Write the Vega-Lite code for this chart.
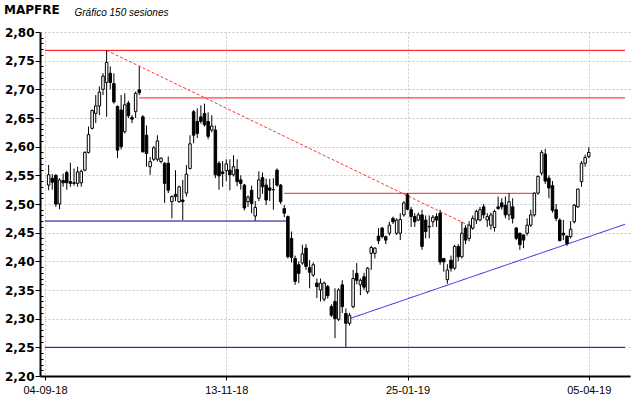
{
  "$schema": "https://vega.github.io/schema/vega-lite/v6.json",
  "width": 590,
  "height": 344,
  "autosize": {"type": "none"},
  "padding": {"left": 40, "top": 32, "right": 10, "bottom": 22},
  "background": "white",
  "config": {"view": {"stroke": null}},
  "title": {"text": "MAPFRE", "anchor": "start", "frame": "group", "dx": -36, "dy": 18, "offset": 8, "font": "DejaVu Sans", "fontSize": 12, "fontWeight": "bold", "color": "black"},
  "resolve": {"axis": {"y": "independent"}},
  "datasets": {
    "lines": [
      {"kind": "res", "i1": 0, "i2": 160, "p1": 2.768, "p2": 2.768},
      {"kind": "res", "i1": 26, "i2": 160, "p1": 2.685, "p2": 2.685},
      {"kind": "res", "i1": 66, "i2": 135, "p1": 2.5186, "p2": 2.5186},
      {"kind": "sup", "i1": 0, "i2": 67, "p1": 2.4703, "p2": 2.4703},
      {"kind": "sup", "i1": 0, "i2": 160, "p1": 2.25, "p2": 2.25},
      {"kind": "trend", "i1": 84, "i2": 160, "p1": 2.3, "p2": 2.4646},
      {"kind": "down", "i1": 17, "i2": 118, "p1": 2.768, "p2": 2.4593}
    ],
    "candles": [
      {"i":1,"o":2.533,"h":2.568,"l":2.524,"c":2.551},
      {"i":2,"o":2.545,"h":2.552,"l":2.525,"c":2.538},
      {"i":3,"o":2.550,"h":2.552,"l":2.495,"c":2.500},
      {"i":4,"o":2.500,"h":2.545,"l":2.491,"c":2.542},
      {"i":5,"o":2.541,"h":2.553,"l":2.530,"c":2.537},
      {"i":6,"o":2.555,"h":2.558,"l":2.525,"c":2.537},
      {"i":7,"o":2.539,"h":2.572,"l":2.530,"c":2.536},
      {"i":8,"o":2.537,"h":2.562,"l":2.532,"c":2.536},
      {"i":9,"o":2.536,"h":2.565,"l":2.530,"c":2.556},
      {"i":10,"o":2.537,"h":2.560,"l":2.530,"c":2.557},
      {"i":11,"o":2.559,"h":2.592,"l":2.557,"c":2.590},
      {"i":12,"o":2.590,"h":2.635,"l":2.588,"c":2.621},
      {"i":13,"o":2.632,"h":2.665,"l":2.630,"c":2.663},
      {"i":14,"o":2.658,"h":2.690,"l":2.641,"c":2.671},
      {"i":15,"o":2.671,"h":2.705,"l":2.655,"c":2.695},
      {"i":16,"o":2.700,"h":2.728,"l":2.690,"c":2.723},
      {"i":17,"o":2.712,"h":2.768,"l":2.652,"c":2.747},
      {"i":18,"o":2.728,"h":2.740,"l":2.700,"c":2.712},
      {"i":19,"o":2.710,"h":2.728,"l":2.675,"c":2.678},
      {"i":20,"o":2.670,"h":2.672,"l":2.580,"c":2.594},
      {"i":21,"o":2.664,"h":2.690,"l":2.595,"c":2.600},
      {"i":22,"o":2.626,"h":2.693,"l":2.623,"c":2.673},
      {"i":23,"o":2.676,"h":2.680,"l":2.650,"c":2.654},
      {"i":24,"o":2.651,"h":2.655,"l":2.641,"c":2.648},
      {"i":25,"o":2.661,"h":2.696,"l":2.650,"c":2.693},
      {"i":26,"o":2.699,"h":2.740,"l":2.690,"c":2.694},
      {"i":27,"o":2.652,"h":2.655,"l":2.590,"c":2.591},
      {"i":28,"o":2.620,"h":2.637,"l":2.565,"c":2.588},
      {"i":29,"o":2.565,"h":2.582,"l":2.551,"c":2.574},
      {"i":30,"o":2.578,"h":2.601,"l":2.575,"c":2.598},
      {"i":31,"o":2.578,"h":2.620,"l":2.574,"c":2.610},
      {"i":32,"o":2.574,"h":2.581,"l":2.571,"c":2.580},
      {"i":33,"o":2.571,"h":2.573,"l":2.502,"c":2.536},
      {"i":34,"o":2.571,"h":2.583,"l":2.519,"c":2.524},
      {"i":35,"o":2.504,"h":2.515,"l":2.475,"c":2.513},
      {"i":36,"o":2.517,"h":2.559,"l":2.505,"c":2.513},
      {"i":37,"o":2.504,"h":2.532,"l":2.502,"c":2.530},
      {"i":38,"o":2.507,"h":2.542,"l":2.472,"c":2.504},
      {"i":39,"o":2.519,"h":2.568,"l":2.513,"c":2.552},
      {"i":40,"o":2.562,"h":2.620,"l":2.560,"c":2.605},
      {"i":41,"o":2.661,"h":2.664,"l":2.606,"c":2.620},
      {"i":42,"o":2.644,"h":2.667,"l":2.615,"c":2.623},
      {"i":43,"o":2.652,"h":2.672,"l":2.640,"c":2.644},
      {"i":44,"o":2.658,"h":2.675,"l":2.635,"c":2.638},
      {"i":45,"o":2.644,"h":2.660,"l":2.613,"c":2.618},
      {"i":46,"o":2.629,"h":2.655,"l":2.625,"c":2.636},
      {"i":47,"o":2.629,"h":2.637,"l":2.545,"c":2.551},
      {"i":48,"o":2.571,"h":2.575,"l":2.525,"c":2.549},
      {"i":49,"o":2.556,"h":2.575,"l":2.530,"c":2.553},
      {"i":50,"o":2.558,"h":2.578,"l":2.540,"c":2.570},
      {"i":51,"o":2.559,"h":2.578,"l":2.524,"c":2.551},
      {"i":52,"o":2.551,"h":2.585,"l":2.548,"c":2.565},
      {"i":53,"o":2.560,"h":2.578,"l":2.531,"c":2.539},
      {"i":54,"o":2.542,"h":2.550,"l":2.525,"c":2.536},
      {"i":55,"o":2.533,"h":2.535,"l":2.489,"c":2.493},
      {"i":56,"o":2.504,"h":2.515,"l":2.495,"c":2.512},
      {"i":57,"o":2.524,"h":2.532,"l":2.484,"c":2.501},
      {"i":58,"o":2.479,"h":2.505,"l":2.471,"c":2.494},
      {"i":59,"o":2.510,"h":2.557,"l":2.505,"c":2.542},
      {"i":60,"o":2.546,"h":2.555,"l":2.518,"c":2.530},
      {"i":61,"o":2.533,"h":2.544,"l":2.498,"c":2.507},
      {"i":62,"o":2.528,"h":2.544,"l":2.505,"c":2.524},
      {"i":63,"o":2.525,"h":2.545,"l":2.490,"c":2.525},
      {"i":64,"o":2.559,"h":2.562,"l":2.530,"c":2.533},
      {"i":65,"o":2.533,"h":2.535,"l":2.500,"c":2.504},
      {"i":66,"o":2.492,"h":2.498,"l":2.477,"c":2.484},
      {"i":67,"o":2.478,"h":2.480,"l":2.405,"c":2.408},
      {"i":68,"o":2.440,"h":2.452,"l":2.398,"c":2.407},
      {"i":69,"o":2.405,"h":2.410,"l":2.359,"c":2.365},
      {"i":70,"o":2.394,"h":2.400,"l":2.362,"c":2.379},
      {"i":71,"o":2.397,"h":2.429,"l":2.394,"c":2.413},
      {"i":72,"o":2.423,"h":2.430,"l":2.385,"c":2.391},
      {"i":73,"o":2.389,"h":2.402,"l":2.353,"c":2.381},
      {"i":74,"o":2.376,"h":2.398,"l":2.373,"c":2.394},
      {"i":75,"o":2.362,"h":2.370,"l":2.336,"c":2.356},
      {"i":76,"o":2.350,"h":2.370,"l":2.330,"c":2.362},
      {"i":77,"o":2.334,"h":2.365,"l":2.330,"c":2.362},
      {"i":78,"o":2.356,"h":2.359,"l":2.335,"c":2.340},
      {"i":79,"o":2.321,"h":2.325,"l":2.303,"c":2.306},
      {"i":80,"o":2.330,"h":2.353,"l":2.266,"c":2.300},
      {"i":81,"o":2.299,"h":2.353,"l":2.296,"c":2.350},
      {"i":82,"o":2.359,"h":2.367,"l":2.310,"c":2.321},
      {"i":83,"o":2.309,"h":2.318,"l":2.251,"c":2.292},
      {"i":84,"o":2.292,"h":2.310,"l":2.288,"c":2.306},
      {"i":85,"o":2.321,"h":2.385,"l":2.318,"c":2.370},
      {"i":86,"o":2.379,"h":2.397,"l":2.360,"c":2.367},
      {"i":87,"o":2.359,"h":2.370,"l":2.341,"c":2.367},
      {"i":88,"o":2.373,"h":2.380,"l":2.350,"c":2.355},
      {"i":89,"o":2.347,"h":2.390,"l":2.343,"c":2.388},
      {"i":90,"o":2.414,"h":2.427,"l":2.385,"c":2.424},
      {"i":91,"o":2.414,"h":2.425,"l":2.405,"c":2.423},
      {"i":92,"o":2.444,"h":2.458,"l":2.430,"c":2.436},
      {"i":93,"o":2.458,"h":2.460,"l":2.440,"c":2.443},
      {"i":94,"o":2.443,"h":2.445,"l":2.430,"c":2.437},
      {"i":95,"o":2.449,"h":2.469,"l":2.445,"c":2.463},
      {"i":96,"o":2.475,"h":2.478,"l":2.465,"c":2.469},
      {"i":97,"o":2.449,"h":2.475,"l":2.446,"c":2.472},
      {"i":98,"o":2.449,"h":2.484,"l":2.437,"c":2.473},
      {"i":99,"o":2.481,"h":2.505,"l":2.478,"c":2.502},
      {"i":100,"o":2.516,"h":2.519,"l":2.489,"c":2.491},
      {"i":101,"o":2.490,"h":2.495,"l":2.460,"c":2.478},
      {"i":102,"o":2.478,"h":2.484,"l":2.460,"c":2.469},
      {"i":103,"o":2.472,"h":2.485,"l":2.470,"c":2.481},
      {"i":104,"o":2.481,"h":2.490,"l":2.420,"c":2.426},
      {"i":105,"o":2.472,"h":2.480,"l":2.440,"c":2.452},
      {"i":106,"o":2.460,"h":2.480,"l":2.440,"c":2.461},
      {"i":107,"o":2.469,"h":2.481,"l":2.460,"c":2.477},
      {"i":108,"o":2.478,"h":2.484,"l":2.460,"c":2.472},
      {"i":109,"o":2.484,"h":2.490,"l":2.394,"c":2.399},
      {"i":110,"o":2.405,"h":2.405,"l":2.382,"c":2.399},
      {"i":111,"o":2.368,"h":2.395,"l":2.361,"c":2.385},
      {"i":112,"o":2.402,"h":2.410,"l":2.382,"c":2.388},
      {"i":113,"o":2.388,"h":2.429,"l":2.385,"c":2.426},
      {"i":114,"o":2.426,"h":2.430,"l":2.400,"c":2.408},
      {"i":115,"o":2.408,"h":2.469,"l":2.405,"c":2.449},
      {"i":116,"o":2.458,"h":2.463,"l":2.430,"c":2.437},
      {"i":117,"o":2.440,"h":2.470,"l":2.435,"c":2.463},
      {"i":118,"o":2.458,"h":2.480,"l":2.455,"c":2.475},
      {"i":119,"o":2.472,"h":2.490,"l":2.465,"c":2.487},
      {"i":120,"o":2.472,"h":2.495,"l":2.470,"c":2.490},
      {"i":121,"o":2.495,"h":2.500,"l":2.475,"c":2.481},
      {"i":122,"o":2.472,"h":2.484,"l":2.460,"c":2.478},
      {"i":123,"o":2.463,"h":2.485,"l":2.455,"c":2.481},
      {"i":124,"o":2.459,"h":2.490,"l":2.452,"c":2.487},
      {"i":125,"o":2.495,"h":2.513,"l":2.490,"c":2.492},
      {"i":126,"o":2.502,"h":2.510,"l":2.490,"c":2.495},
      {"i":127,"o":2.498,"h":2.513,"l":2.475,"c":2.481},
      {"i":128,"o":2.481,"h":2.519,"l":2.472,"c":2.504},
      {"i":129,"o":2.495,"h":2.510,"l":2.466,"c":2.475},
      {"i":130,"o":2.458,"h":2.460,"l":2.437,"c":2.440},
      {"i":131,"o":2.449,"h":2.450,"l":2.420,"c":2.429},
      {"i":132,"o":2.446,"h":2.447,"l":2.423,"c":2.437},
      {"i":133,"o":2.449,"h":2.475,"l":2.445,"c":2.463},
      {"i":134,"o":2.463,"h":2.490,"l":2.460,"c":2.481},
      {"i":135,"o":2.481,"h":2.520,"l":2.478,"c":2.519},
      {"i":136,"o":2.519,"h":2.550,"l":2.516,"c":2.548},
      {"i":137,"o":2.554,"h":2.594,"l":2.550,"c":2.590},
      {"i":138,"o":2.587,"h":2.596,"l":2.535,"c":2.540},
      {"i":139,"o":2.545,"h":2.550,"l":2.510,"c":2.528},
      {"i":140,"o":2.532,"h":2.540,"l":2.485,"c":2.489},
      {"i":141,"o":2.490,"h":2.500,"l":2.470,"c":2.475},
      {"i":142,"o":2.472,"h":2.475,"l":2.435,"c":2.436},
      {"i":143,"o":2.449,"h":2.472,"l":2.437,"c":2.446},
      {"i":144,"o":2.444,"h":2.445,"l":2.427,"c":2.431},
      {"i":145,"o":2.443,"h":2.470,"l":2.440,"c":2.456},
      {"i":146,"o":2.469,"h":2.500,"l":2.466,"c":2.498},
      {"i":147,"o":2.495,"h":2.527,"l":2.493,"c":2.526},
      {"i":148,"o":2.539,"h":2.575,"l":2.530,"c":2.571},
      {"i":149,"o":2.571,"h":2.586,"l":2.565,"c":2.581},
      {"i":150,"o":2.583,"h":2.599,"l":2.580,"c":2.590}
    ]
  },
  "layer": [
    {
      "data": {"name": "lines"},
      "mark": {"type": "rule", "strokeWidth": 1},
      "encoding": {
        "x": {"field": "i1", "type": "quantitative", "scale": {"domain": [0, 160], "nice": false, "zero": false},
          "axis": {"values": [0, 50, 100, 150], "labelExpr": "datum.value == 0 ? '04-09-18' : datum.value == 50 ? '13-11-18' : datum.value == 100 ? '25-01-19' : '05-04-19'", "title": null, "grid": true, "gridColor": "#c8c8c8", "gridDash": [2, 2], "tickSize": 4, "tickColor": "black", "domainColor": "black", "domainWidth": 2, "labelFont": "Liberation Sans", "labelFontSize": 11, "labelColor": "black", "labelPadding": 4, "labelFlush": false}},
        "x2": {"field": "i2"},
        "y": {"field": "p1", "type": "quantitative", "scale": {"domain": [2.2, 2.8], "nice": false, "zero": false},
          "axis": {
            "orient": "left",
            "values": [2.2, 2.25, 2.3, 2.35, 2.4, 2.45, 2.5, 2.55, 2.6, 2.65, 2.7, 2.75, 2.8],
            "title": "Gráfico 150 sesiones", "titleAngle": 0, "titleAlign": "left", "titleBaseline": "alphabetic", "titleX": 34, "titleY": -17,
            "titleFont": "Liberation Sans", "titleFontStyle": "italic", "titleFontWeight": "normal", "titleFontSize": 10, "titleColor": "black",
            "labelExpr": "replace(format(datum.value, '.2f'), '.', ',')",
            "labelFont": "DejaVu Sans", "labelFontWeight": "bold", "labelFontSize": 12, "labelColor": "black", "labelPadding": 1, "labelOverlap": false, "labelFlush": false,
            "tickSize": 5, "tickColor": "black", "domainColor": "black", "domainWidth": 2,
            "grid": true, "gridColor": "#c8c8c8", "gridDash": [2, 2]
          }},
        "y2": {"field": "p2"},
        "color": {"field": "kind", "type": "nominal", "scale": {"domain": ["res", "sup", "trend", "down"], "range": ["#ff0000", "#00009c", "#2222e6", "#ff3030"]}, "legend": null},
        "strokeDash": {"field": "kind", "type": "nominal", "scale": {"domain": ["res", "sup", "trend", "down"], "range": [[1, 0], [1, 0], [1, 0], [3, 2]]}, "legend": null}
      }
    },
    {
      "data": {"name": "candles"},
      "mark": {"type": "rule", "color": "black", "strokeWidth": 1},
      "encoding": {
        "x": {"field": "i", "type": "quantitative", "scale": {"domain": [0, 160], "nice": false, "zero": false}},
        "y": {"field": "l", "type": "quantitative", "scale": {"domain": [2.2, 2.8], "nice": false, "zero": false},
          "axis": {
            "orient": "left",
            "values": [2.21,2.22,2.23,2.24,2.26,2.27,2.28,2.29,2.31,2.32,2.33,2.34,2.36,2.37,2.38,2.39,2.41,2.42,2.43,2.44,2.46,2.47,2.48,2.49,2.51,2.52,2.53,2.54,2.56,2.57,2.58,2.59,2.61,2.62,2.63,2.64,2.66,2.67,2.68,2.69,2.71,2.72,2.73,2.74,2.76,2.77,2.78,2.79],
            "labels": false, "grid": false, "domain": false, "title": null,
            "tickSize": -3, "tickColor": "black"
          }},
        "y2": {"field": "h"}
      }
    },
    {
      "data": {"name": "candles"},
      "mark": {"type": "bar", "orient": "vertical", "size": 2.5, "stroke": "black", "strokeWidth": 1},
      "encoding": {
        "x": {"field": "i", "type": "quantitative", "scale": {"domain": [0, 160], "nice": false, "zero": false}},
        "y": {"field": "o", "type": "quantitative", "scale": {"domain": [2.2, 2.8], "nice": false, "zero": false}, "axis": null},
        "y2": {"field": "c"},
        "fill": {"condition": {"test": "datum.c > datum.o", "value": "white"}, "value": "black"}
      }
    }
  ]
}
